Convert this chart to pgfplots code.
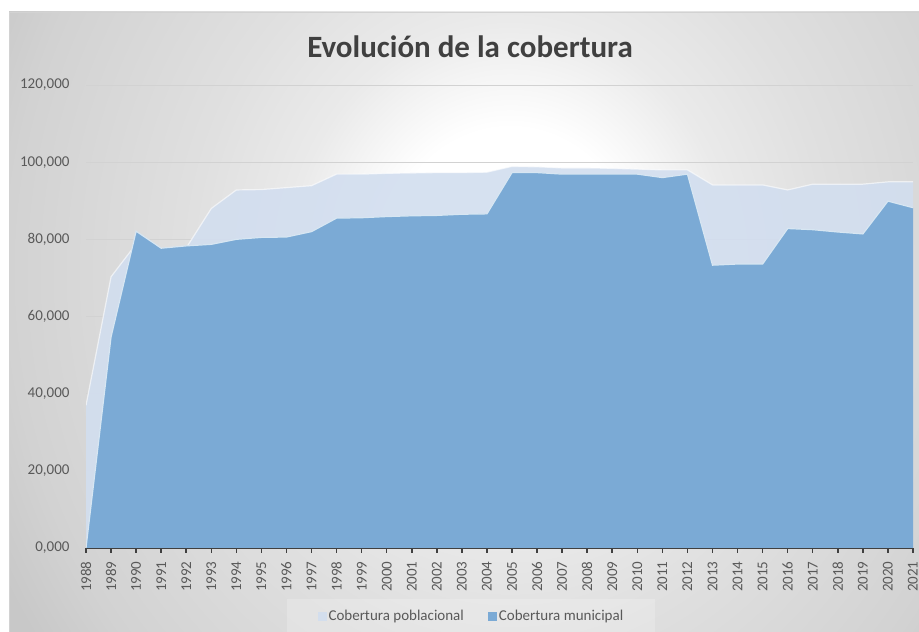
\documentclass[border=0pt]{standalone}
\usepackage{fontspec}
\setmainfont{Carlito}
\usepackage{pgfplots}
\pgfplotsset{compat=1.18}
\usepackage{pgfplotstable}
\definecolor{darkb}{HTML}{7BAAD5}
\definecolor{lightb}{HTML}{D2DEEF}
\definecolor{txt}{HTML}{595959}
\definecolor{ttl}{HTML}{404040}
\definecolor{gridc}{HTML}{D2D2D2}
\definecolor{g1}{HTML}{EAEAEA}
\definecolor{g2}{HTML}{E0E0E0}
\definecolor{g3}{HTML}{D2D2D2}
\definecolor{g4}{HTML}{C8C8C8}
\pgfdeclareradialshading{bgshade}{\pgfpoint{0bp}{0bp}}{color(0bp)=(white); color(4bp)=(white); color(7bp)=(g1); color(10bp)=(g2); color(15.7bp)=(g3); color(18bp)=(g4); color(50bp)=(g4)}
\pgfplotsset{layers/mylayers/.define layer set={axis background,axis grid,main,axis ticks,axis lines,axis tick labels,axis descriptions,axis foreground}{}}

\pgfplotstableread{
year pob mun
1988 37000 0
1989 70300 54700
1990 78800 82100
1991 77000 77700
1992 77800 78300
1993 88000 78700
1994 92800 80000
1995 92900 80500
1996 93400 80600
1997 93900 82000
1998 96900 85500
1999 96900 85600
2000 97100 85900
2001 97200 86100
2002 97300 86200
2003 97300 86500
2004 97400 86600
2005 98900 97300
2006 98800 97300
2007 98500 96900
2008 98500 96900
2009 98400 96900
2010 98200 96900
2011 98000 96000
2012 98000 96900
2013 94100 73300
2014 94100 73600
2015 94100 73600
2016 92800 82800
2017 94300 82500
2018 94300 81900
2019 94300 81400
2020 94900 89900
2021 94900 88200
}\data

\begin{document}
\begin{tikzpicture}
\fill[white] (0pt,0pt) rectangle (919pt,632pt);
\begin{scope}
\clip (9pt,0pt) rectangle (919pt,620pt);
\shade[shading=bgshade, overlay] (510pt,360pt) ellipse [x radius=800pt, y radius=900pt];
\end{scope}
\draw[gray!35, line width=0.8pt] (9pt,0pt) -- (9pt,620pt) -- (919pt,620pt);
\fill[white, opacity=0.2] (287pt,0pt) rectangle (655pt,33pt);
\node[font=\fontsize{31}{36}\selectfont\bfseries, text=ttl] at (470pt,585pt) {Evolución de la cobertura};
\begin{axis}[
  set layers=mylayers,
  at={(86pt,84pt)}, anchor=south west,
  scale only axis, width=827pt, height=463pt,
  xmin=1988, xmax=2021, ymin=0, ymax=120000,
  axis x line*=bottom, axis y line*=left,
  y axis line style={draw=none},
  x axis line style={draw=ttl, line width=2pt},
  xtick={1988,...,2021},
  xticklabel={\pgfmathprintnumber[assume math mode=true,1000 sep={},fixed]{\tick}},
  xticklabel style={rotate=90, anchor=east, font=\fontsize{15}{18}\selectfont, text=txt, xshift=-5pt},
  xtick style={draw=ttl, line width=1.5pt},
  tick align=outside,
  major tick length=5pt,
  ytick={0,20000,...,120000},
  yticklabels={{0,000},{20,000},{40,000},{60,000},{80,000},{100,000},{120,000}},
  yticklabel style={font=\fontsize{15}{18}\selectfont, text=txt, xshift=-8pt},
  ytick style={draw=none},
  ymajorgrids, grid style={draw=gridc, line width=0.8pt},
  scaled y ticks=false,
  legend columns=2,
  legend style={at={(0.466,-0.1469)}, anchor=center, fill=none, draw=none,
    font=\fontsize{15}{18}\selectfont, text=txt,
    /tikz/every even column/.append style={column sep=22pt}},
  legend image code/.code={\path[#1] (0pt,-4.5pt) rectangle (9pt,4.5pt);},
]
\addplot[fill=lightb, fill opacity=0.9, draw=none] table[x=year,y=pob] {\data} \closedcycle;
\addlegendentry{Cobertura poblacional}
\addplot[forget plot, draw=white, opacity=0.6, line width=1.2pt] table[x=year,y=pob] {\data};
\addplot[fill=darkb, draw=none] table[x=year,y=mun] {\data} \closedcycle;
\addlegendentry{Cobertura municipal}
\addplot[forget plot, draw=white!70!darkb, line width=1.2pt] table[x=year,y=mun] {\data};
\end{axis}
\pgfresetboundingbox
\path (0pt,0pt) rectangle (919pt,632pt);
\end{tikzpicture}
\end{document}
